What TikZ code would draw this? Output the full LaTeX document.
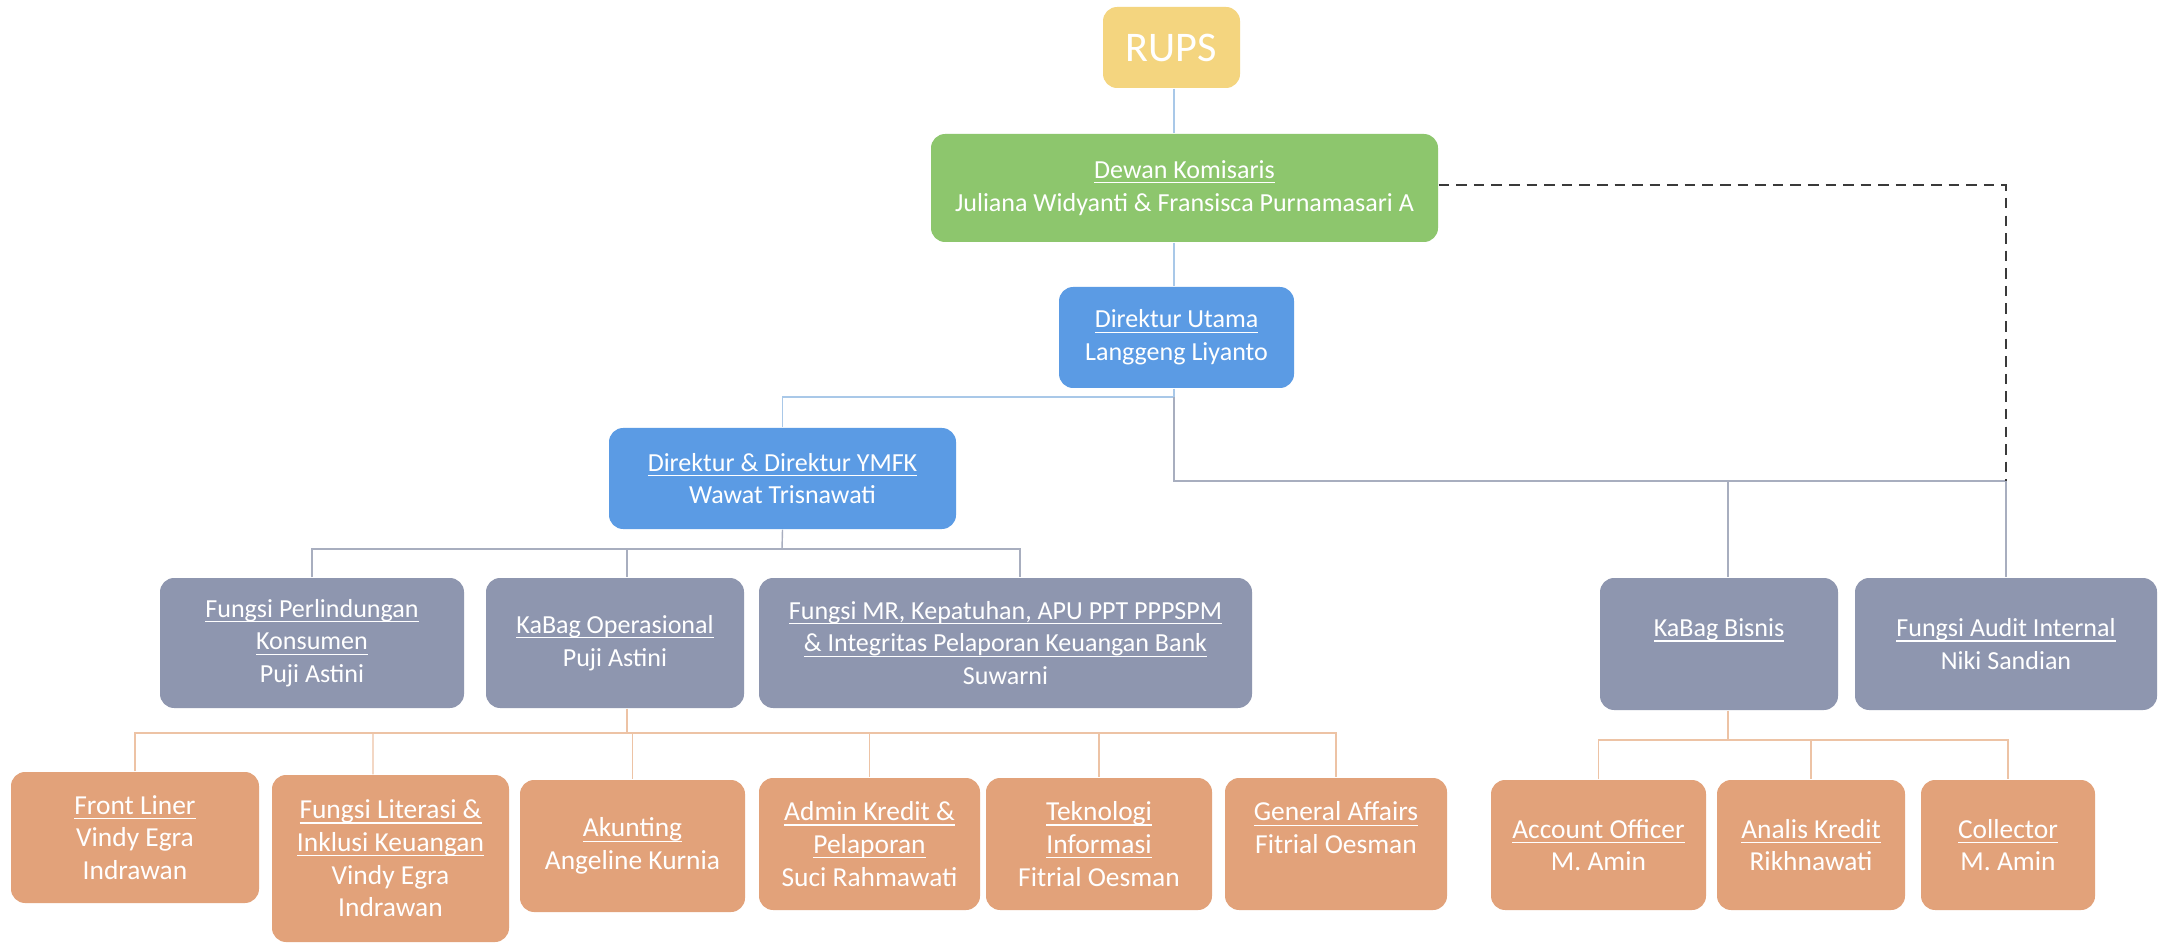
\documentclass[tikz,border=0pt]{standalone}
\usepackage{fontspec}
\setmainfont{Carlito}
\usetikzlibrary{calc}
\definecolor{cY}{HTML}{F4D57F}
\definecolor{cG}{HTML}{8DC66D}
\definecolor{cB}{HTML}{5B9BE4}
\definecolor{cGr}{HTML}{8E96AF}
\definecolor{cO}{HTML}{E2A27A}
\definecolor{lnB}{HTML}{A9C8E8}
\definecolor{lnG}{HTML}{A8AEBF}
\definecolor{lnO}{HTML}{EDC3A5}
\definecolor{dsh}{HTML}{3A3A3A}
\newcommand{\ttl}[1]{\setbox0\hbox{#1}\leavevmode\rlap{\rule[-1.4pt]{\wd0}{0.35pt}}\box0}
\begin{document}
\begin{tikzpicture}[x=0.01cm,y=-0.01cm,
  box/.style={rounded corners=4pt, inner sep=0pt, text=white, align=center,
    font=\fontsize{7.4}{9.3}\selectfont},
  wh/.style 2 args={minimum width=#1*0.01cm, minimum height=#2*0.01cm},
  yel/.style={box, fill=cY},
  grn/.style={box, fill=cG},
  blu/.style={box, fill=cB},
  gry/.style={box, fill=cGr},
  org/.style={box, fill=cO, font=\fontsize{7.8}{9.3}\selectfont},
  lb/.style={draw=lnB, line width=0.4pt},
  lg/.style={draw=lnG, line width=0.4pt},
  lo/.style={draw=lnO, line width=0.4pt},
  dline/.style={draw=dsh, line width=0.8pt, dash pattern=on 3pt off 2pt}]
\useasboundingbox (0,0) rectangle (2167,943);
\fill[white] (0,0) rectangle (2167,943);

% nodes
\node[yel, wh={137}{81}, font=\fontsize{12}{14}\selectfont] (rups) at (1171.5,47.5) {RUPS};
\node[grn, wh={507}{108}] (dewan) at (1184.5,188) {\ttl{Dewan Komisaris}\\Juliana Widyanti \& Fransisca Purnamasari A};
\node[blu, wh={235}{101}] (dirut) at (1176.5,337.5) {\ttl{Direktur Utama}\\Langgeng Liyanto};
\node[blu, wh={347}{101}] (dirymfk) at (782.5,478.5) {\ttl{Direktur \& Direktur YMFK}\\Wawat Trisnawati};

\node[gry, wh={304}{130}] (fpk) at (312,643) {\ttl{Fungsi Perlindungan}\\\ttl{Konsumen}\\Puji Astini};
\node[gry, wh={258}{130}] (kop) at (615,643) {\ttl{KaBag Operasional}\\Puji Astini};
\node[gry, wh={493}{130}] (fmr) at (1005.5,643) {\ttl{Fungsi MR, Kepatuhan, APU PPT PPPSPM}\\\ttl{\& Integritas Pelaporan Keuangan Bank}\\Suwarni};
\node[gry, wh={238}{132}] (kbis) at (1719,644) {\ttl{KaBag Bisnis}\\\mbox{}};
\node[gry, wh={302}{132}] (audit) at (2006,644) {\ttl{Fungsi Audit Internal}\\Niki Sandian};

\node[org, wh={248}{131}] (fl) at (135,837.5) {\ttl{Front Liner}\\Vindy Egra\\Indrawan};
\node[org, wh={237}{167}] (lit) at (390.5,858.5) {\ttl{Fungsi Literasi \&}\\\ttl{Inklusi Keuangan}\\Vindy Egra\\Indrawan};
\node[org, wh={225}{132}] (akun) at (632.5,846) {\ttl{Akunting}\\Angeline Kurnia};
\node[org, wh={221}{132}] (adm) at (869.5,844) {\ttl{Admin Kredit \&}\\\ttl{Pelaporan}\\Suci Rahmawati};
\node[org, wh={226}{132}] (tek) at (1099,844) {\ttl{Teknologi}\\\ttl{Informasi}\\Fitrial Oesman};
\node[org, wh={222}{132}] (ga) at (1336,844) {\ttl{General Affairs}\\Fitrial Oesman\\\mbox{}};
\node[org, wh={215}{130}] (ao) at (1598.5,845) {\ttl{Account Officer}\\M. Amin};
\node[org, wh={188}{130}] (ak) at (1811,845) {\ttl{Analis Kredit}\\Rikhnawati};
\node[org, wh={174}{130}] (col) at (2008,845) {\ttl{Collector}\\M. Amin};

% junctions
\coordinate (j1) at (1174,397);
\coordinate (j2) at (1174,481);
\coordinate (b1) at (782,549);
\coordinate (b2) at (627,733);
\coordinate (b3) at (1728,740);

% connectors
\draw[lb] (rups.south -| j1) -- (dewan.north -| j1);
\draw[lb] (dewan.south -| j1) -- (dirut.north -| j1);
\draw[lb] (dirut.south -| j1) -- (j1) -| (dirymfk.north);
\draw[lg] (j1) -- (j2) -| (audit.north);
\draw[lg] (j2 -| b3) -- (kbis.north -| b3);
\draw[dline] (dewan.east |- 0,185) -| (j2 -| audit.north);

\draw[lg] (dirymfk.south) -- (b1);
\draw[lg] (fpk.north) |- (b1) -| ([xshift=0.145cm]fmr.north);
\draw[lg] (b1 -| b2) -- (kop.north -| b2);

\draw[lo] (kop.south -| b2) -- (b2);
\draw[lo] (fl.north) |- (b2) -| (ga.north);
\draw[lo] (b2 -| 373,0) -- ([xshift=-0.175cm]lit.north);
\draw[lo] (b2 -| akun.north) -- (akun.north);
\draw[lo] (b2 -| adm.north) -- (adm.north);
\draw[lo] (b2 -| tek.north) -- (tek.north);

\draw[lo] (kbis.south -| b3) -- (b3);
\draw[lo] (ao.north) |- (b3) -| (col.north);
\draw[lo] (b3 -| ak.north) -- (ak.north);
\end{tikzpicture}
\end{document}
